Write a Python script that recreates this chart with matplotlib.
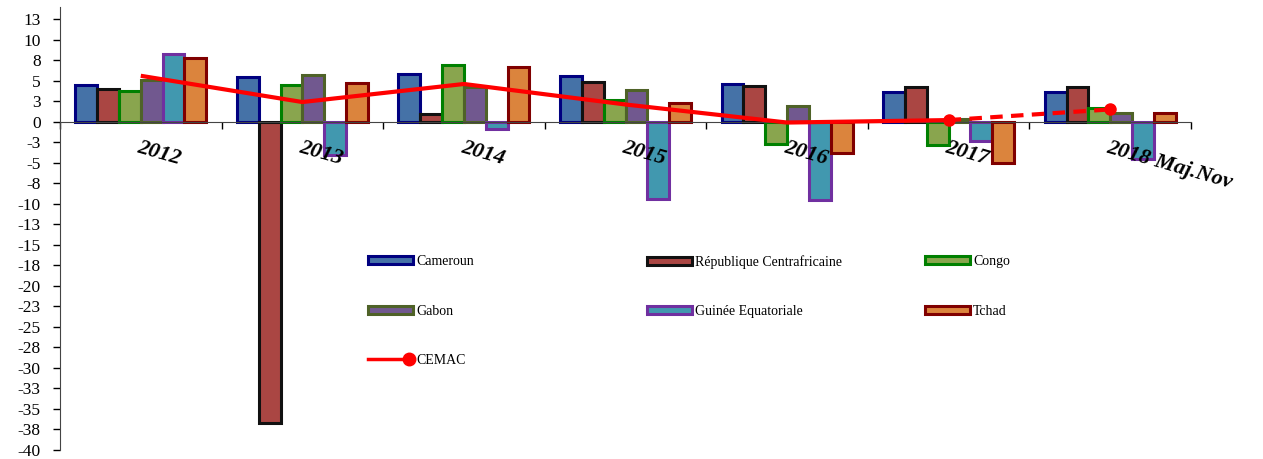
import matplotlib.pyplot as plt
import matplotlib.patches as mpatches
from matplotlib.lines import Line2D
from matplotlib.legend_handler import HandlerBase
from matplotlib.ticker import FixedLocator, FuncFormatter
import numpy as np

# Croissance du PIB réel par pays de la CEMAC (%)
years = ["2012", "2013", "2014", "2015", "2016", "2017", "2018 Maj.Nov"]
cameroun = [4.5, 5.4, 5.8, 5.6, 4.6, 3.6, 3.6]
rca = [4.0, -36.7, 0.9, 4.8, 4.4, 4.2, 4.2]
congo = [3.8, 4.5, 6.9, 2.6, -2.7, -2.8, 1.65]
gabon = [5.1, 5.7, 4.2, 3.9, 1.9, 0.3, 1.05]
guinee = [8.2, -4.0, -0.85, -9.45, -9.5, -2.3, -4.6]
tchad = [7.8, 4.7, 6.7, 2.3, -3.8, -5.0, 1.05]
cemac = [5.6, 2.4, 4.6, 2.1, -0.1, 0.2, 1.5]

names = ["Cameroun", "République Centrafricaine", "Congo",
         "Gabon", "Guinée Equatoriale", "Tchad"]
series = [cameroun, rca, congo, gabon, guinee, tchad]
faces = ["#4572A7", "#AA4643", "#89A54E", "#71588F", "#4198AF", "#DB843D"]
edges = ["#000080", "#111111", "#008000", "#4F6228", "#7030A0", "#800000"]


class LineDotHandler(HandlerBase):
    # trait rouge avec le point au bout droit
    def create_artists(self, legend, orig, xdescent, ydescent, width,
                       height, fontsize, trans):
        y = height / 2 - ydescent
        line = Line2D([-xdescent, width - xdescent], [y, y], color="red",
                      lw=2.5, transform=trans)
        dot = Line2D([width - xdescent - 3], [y], marker="o", ms=9,
                     color="red", ls="none", transform=trans)
        return [line, dot]


serif = "Liberation Serif"
fig = plt.figure(figsize=(12.63, 4.59), dpi=100)
ax = fig.add_axes([0.0475, 0.02, 0.8955, 0.965])

x = np.arange(len(years))
w = 0.135
for i, vals in enumerate(series):
    ax.bar(x + (i - 2.5) * w, vals, width=w, color=faces[i],
           edgecolor=edges[i], linewidth=2.2, zorder=2)

# CEMAC : trait plein jusqu'en 2017, pointillés pour 2018
ax.plot(x[:6], cemac[:6], color="red", lw=3, zorder=3, solid_capstyle="butt")
ax.plot(x[5:], cemac[5:], color="red", lw=3, ls=(0, (3, 2)), zorder=3)
ax.plot(x[5:], cemac[5:], "o", color="red", ms=8, zorder=4)

ax.set_xlim(-0.5, 6.5)
ax.set_ylim(-40, 14)

ticks = np.arange(-40, 12.6, 2.5)
ax.yaxis.set_major_locator(FixedLocator(ticks))
ax.yaxis.set_major_formatter(FuncFormatter(
    lambda v, p: "%d" % (np.sign(v) * np.floor(abs(v) + 0.5))))
for lab in ax.get_yticklabels():
    lab.set_fontfamily(serif)
ax.tick_params(axis="y", labelsize=12.5, length=5, width=1, direction="out",
               pad=9)

ax.spines["top"].set_visible(False)
ax.spines["right"].set_visible(False)
ax.spines["bottom"].set_position(("data", 0))
ax.spines["left"].set_bounds(-40, 14)
ax.spines["left"].set_color("#444444")
ax.spines["bottom"].set_color("#444444")

ax.set_xticks(np.arange(-0.5, 6.6, 1))
ax.set_xticklabels([])
ax.tick_params(axis="x", length=5, width=1, direction="out")

for xi, yr in zip(x, years):
    ax.text(xi, -1.9, yr, rotation=-16, rotation_mode="anchor",
            ha="left", va="top", fontsize=16, fontweight="bold",
            fontstyle="italic", fontfamily=serif, zorder=5)

# Légende sur trois colonnes
handles = [mpatches.Patch(facecolor=f, edgecolor=e, linewidth=2.2)
           for f, e in zip(faces, edges)]
cemac_h = Line2D([0], [0], color="red")
cols = [([handles[0], handles[3], cemac_h], [names[0], names[3], "CEMAC"]),
        ([handles[1], handles[4]], [names[1], names[4]]),
        ([handles[2], handles[5]], [names[2], names[5]])]
col_x = [0.291, 0.512, 0.732]
for (hs, ls), cx in zip(cols, col_x):
    fig.legend(hs, ls, loc="upper left", bbox_to_anchor=(cx, 0.445),
               bbox_transform=fig.transFigure, frameon=False, borderpad=0,
               borderaxespad=0, handlelength=3.3, handleheight=0.5,
               handletextpad=0.2, labelspacing=2.65,
               handler_map={cemac_h: LineDotHandler()},
               prop={"family": serif, "size": 10})

fig.savefig("out.png", dpi=100)
